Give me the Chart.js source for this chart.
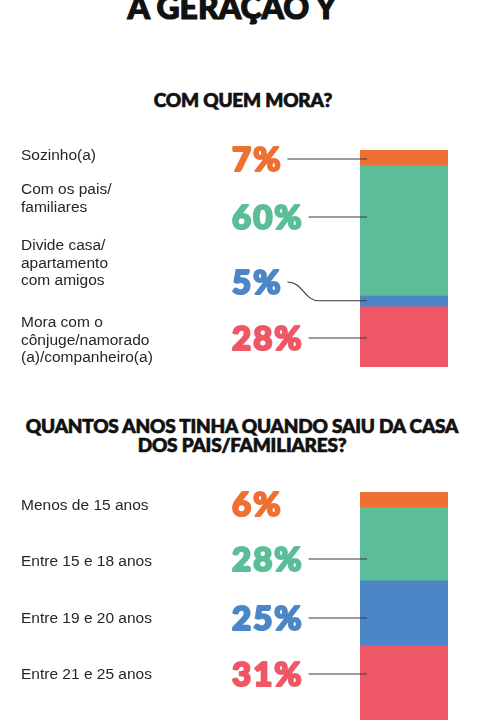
<!DOCTYPE html>
<html lang="pt-BR">
<head>
<meta charset="utf-8">
<title>A geração Y</title>
<script src="https://cdn.jsdelivr.net/npm/chart.js@4"></script>
<style>
  html, body { margin: 0; padding: 0; background: #fff; overflow: hidden; width: 480px; height: 720px; }
  .titulo { position: absolute; left: 0; width: 480px; text-align: center; font-family: Lato, sans-serif; font-weight: 900; color: #111; -webkit-text-stroke: 0.7px #111; }
  #t0 { top: -9px; left: -8px; font-size: 32px; line-height: 32px; -webkit-text-stroke: 1.2px #111; }
  #t1 { top: 90px; left: 3px; font-size: 19px; line-height: 19px; letter-spacing: -0.2px; }
  #t2 { top: 416px; left: 2px; font-size: 19px; line-height: 19px; letter-spacing: -0.2px; }
  canvas { position: absolute; left: 0; }
  #c1 { top: 0; }
  #c2 { top: 380px; }
</style>
</head>
<body>
<div class="titulo" id="t0">A GERAÇAO Y</div>
<div class="titulo" id="t1">COM QUEM MORA?</div>
<div class="titulo" id="t2">QUANTOS ANOS TINHA QUANDO SAIU DA CASA<br>DOS PAIS/FAMILIARES?</div>
<canvas id="c1" width="480" height="380"></canvas>
<canvas id="c2" width="480" height="380"></canvas>
<script>
// dados
const moraCategorias = [
  ["Sozinho(a)"],
  ["Com os pais/", "familiares"],
  ["Divide casa/", "apartamento", "com amigos"],
  ["Mora com o", "cônjuge/namorado", "(a)/companheiro(a)"]
];
const moraValores = [7, 60, 5, 28];

const idadeCategorias = [
  ["Menos de 15 anos"],
  ["Entre 15 e 18 anos"],
  ["Entre 19 e 20 anos"],
  ["Entre 21 e 25 anos"]
];
const idadeValores = [6, 28, 25, 31];

const cores = ["#EE7132", "#5BBE98", "#4C86C6", "#EE5866"];

// desenha rotulos, percentuais e linhas de chamada
const rotulosPlugin = {
  id: "rotulos",
  afterDatasetsDraw(chart, args, opts) {
    const ctx = chart.ctx;
    const cats = opts.categorias;
    ctx.save();
    for (let i = 0; i < cats.length; i++) {
      const el = chart.getDatasetMeta(i).data[0];
      const topo = Math.min(el.y, el.base);
      const fundo = Math.max(el.y, el.base);
      const esq = el.x - el.width / 2;
      const ds = chart.data.datasets[i];

      // texto da categoria
      ctx.fillStyle = "#262626";
      ctx.font = '15.5px "Liberation Sans", Arial, sans-serif';
      ctx.textAlign = "left";
      ctx.textBaseline = "alphabetic";
      ctx.letterSpacing = "0px";
      cats[i].forEach(function (linha, k) {
        ctx.fillText(linha, 21, opts.base[i] + k * 17.5);
      });

      // percentual (contorno para engrossar)
      const txt = ds.data[0] + "%";
      ctx.font = "900 33px Lato, sans-serif";
      ctx.letterSpacing = "2px";
      ctx.fillStyle = ds.backgroundColor;
      ctx.strokeStyle = ds.backgroundColor;
      ctx.lineWidth = 2.2;
      ctx.lineJoin = "round";
      ctx.fillText(txt, 232, opts.pct[i]);
      ctx.strokeText(txt, 232, opts.pct[i]);
      const larg = ctx.measureText(txt).width;
      ctx.letterSpacing = "0px";
      if (!opts.linhas[i]) continue;

      // linha de chamada
      const x0 = 232 + larg + 5;
      const y0 = opts.pct[i] - 12;
      const x1 = esq + 7;
      ctx.strokeStyle = "#3a3a3a";
      ctx.lineWidth = 1.1;
      ctx.beginPath();
      ctx.moveTo(x0, y0);
      if (y0 > topo + 2 && y0 < fundo - 2) {
        ctx.lineTo(x1, y0);
      } else {
        const y1 = (topo + fundo) / 2;
        ctx.bezierCurveTo(x0 + 16, y0, x0 + 16, y1, x0 + 32, y1);
        ctx.lineTo(x1, y1);
      }
      ctx.stroke();
    }
    ctx.restore();
  }
};

function criaGrafico(id, categorias, valores, padding, rotulos) {
  return new Chart(document.getElementById(id), {
    type: "bar",
    data: {
      labels: [""],
      datasets: valores.map(function (v, i) {
        return {
          data: [v],
          backgroundColor: cores[i],
          borderWidth: 0,
          barPercentage: 1,
          categoryPercentage: 1
        };
      })
    },
    options: {
      responsive: false,
      animation: false,
      devicePixelRatio: 1,
      layout: { padding: padding },
      scales: {
        x: { display: false, stacked: true },
        y: { display: false, stacked: true, reverse: true, min: 0, max: 100 }
      },
      plugins: {
        legend: { display: false },
        tooltip: { enabled: false },
        rotulos: Object.assign({ categorias: categorias }, rotulos)
      }
    },
    plugins: [rotulosPlugin]
  });
}

criaGrafico("c1", moraCategorias, moraValores,
  { left: 360, right: 32, top: 150, bottom: 13 },
  { base: [160, 194, 250, 327], pct: [171, 229, 294, 350], linhas: [true, true, true, true] });

criaGrafico("c2", idadeCategorias, idadeValores,
  { left: 360, right: 32, top: 112, bottom: 9 },
  { base: [130, 186, 243, 299], pct: [136, 191, 250, 306], linhas: [false, true, true, true] });
</script>
</body>
</html>
